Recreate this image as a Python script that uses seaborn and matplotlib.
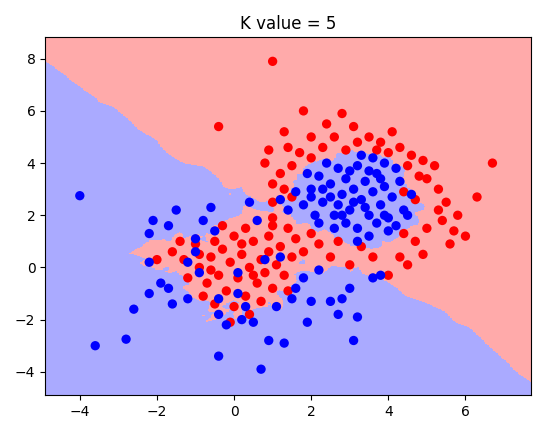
import numpy as np
import pandas as pd
import matplotlib
matplotlib.use("Agg")
import matplotlib.pyplot as plt
from matplotlib.colors import ListedColormap
import seaborn as sns

# Points (class 0 = red, class 1 = blue)
blue_pts = [
    (-4, 2.75), (-3.6, -3), (-2.8, -2.75), (-2.6, -1.6), (-2.2, 0.2), (-2.2, 1.3), (-2.1, 1.8),
    (-1.9, -0.6), (-1.7, -0.8), (-1.6, -1.4), (-1.7, 1.6), (-1.5, 2.2), (-1.2, -1.2), (-1, 0.6),
    (-0.8, 1.8), (-0.6, 2.3), (-0.5, 1.4), (-0.4, -3.4), (-0.4, -1.8), (-0.2, -2.2), (0.1, -1.0),
    (0.3, -1.5), (0.5, -2.1), (0.7, -3.9), (0.9, -2.8), (1.1, -1.5), (1.3, -2.9), (1.5, -1.2),
    (1.8, -0.4), (2, -1.3), (2.2, -0.1), (2.5, -1.3), (2.8, -1.2), (3.1, -2.8), (3.2, -1.9),
    (3.0, -0.8), (3.6, -0.4), (0.1, -0.2), (0.6, 1.8), (1.2, 2.6), (1.4, 2.2), (0.4, 2.5),
    (-1, 1.1), (-0.9, -0.2), (-1.2, 0.2), (0.8, 0.3), (1.2, 0.4), (1.6, -0.8), (2.7, -1.8),
    (-0.4, -1.2), (-2.2, -1.0), (0.2, -2.0), (1.9, -2.1),
    (2.0, 3.0), (2.2, 3.5), (2.3, 2.5), (2.5, 3.2), (2.6, 2.0), (2.7, 3.8), (2.8, 2.8), (2.9, 3.4),
    (3.0, 2.2), (3.1, 3.0), (3.2, 3.9), (3.3, 2.6), (3.4, 3.3), (3.5, 2.0), (3.6, 2.9), (3.7, 3.6),
    (3.8, 2.4), (3.9, 3.1), (4.0, 1.9), (4.1, 2.7), (4.3, 3.3), (4.4, 2.2), (1.8, 2.4), (1.9, 3.6),
    (2.1, 2.0), (2.4, 4.0), (2.6, 1.5), (2.9, 1.7), (3.2, 1.5), (3.3, 4.3), (3.6, 4.2), (3.9, 4.0),
    (4.2, 1.6), (4.6, 2.8), (1.6, 2.9), (2.3, 3.0), (2.7, 2.4), (3.0, 3.7), (3.4, 2.3), (3.7, 1.7),
    (3.9, 2.0), (4.2, 3.8), (2.2, 1.7), (2.0, 2.7), (2.8, 2.0), (3.1, 2.5), (3.5, 3.7), (3.8, 3.4),
    (4.5, 2.0), (2.5, 2.7), (3.2, 1.0), (3.5, 1.2), (4.0, 1.4), (3.8, -0.3),
]
red_pts = [
    (1.0, 7.9), (1.3, 5.2), (1.8, 6.0), (2.4, 5.5), (2.6, 5.0), (2.8, 5.9), (3.1, 5.4), (3.5, 5.0),
    (3.8, 4.8), (4.1, 5.2), (4.3, 4.6), (4.6, 4.3), (4.9, 4.1), (5.2, 3.9), (5.0, 3.4), (5.3, 3.0),
    (5.5, 2.5), (5.4, 1.8), (5.7, 1.4), (5.8, 2.0), (6.0, 1.2), (6.3, 2.7), (6.7, 4.0), (5.3, 2.2),
    (5.0, 1.5), (4.7, 1.0), (4.9, 0.5), (4.5, 0.1), (4.3, 0.4), (4.0, -0.3), (3.6, 0.4), (3.3, 0.8),
    (3.0, 0.1), (2.5, 0.4), (2.2, 0.9), (1.8, 0.6), (1.4, 1.5), (1.0, 2.5), (1.0, 3.2), (1.2, 3.6),
    (1.5, 3.9), (1.7, 4.4), (1.4, 4.6), (2.0, 4.2), (2.3, 4.6), (2.9, 4.5), (3.2, 4.8), (3.7, 4.5),
    (4.0, 4.4), (4.5, 3.9), (4.8, 3.5), (4.7, 2.6), (4.4, 2.9), (1.0, 1.9), (0.8, 4.0), (0.9, 4.5),
    (-0.4, 5.4), (5.6, 0.9), (1.5, 2.7), (1.3, 3.0), (2.0, 5.0), (4.4, 1.3), (2.7, 1.0), (2.0, 1.3),
    (-1.6, 0.6), (-1.3, 0.3), (-1.0, 0.9), (-0.9, 0.0), (-0.7, -0.6), (-0.6, 0.4), (-0.5, 1.0),
    (-0.4, -0.3), (-0.3, 0.7), (-0.2, -0.9), (-0.1, 0.2), (0.0, 1.2), (0.1, -0.4), (0.2, 0.5),
    (0.3, -1.1), (0.4, 0.0), (0.5, 1.0), (0.6, -0.6), (0.7, 0.3), (0.8, -0.2), (0.9, 1.2),
    (1.0, -0.8), (1.1, 0.1), (1.2, 0.8), (1.3, -0.3), (1.5, 0.4), (1.6, 1.1), (-0.8, -1.1),
    (-0.5, -1.4), (0.0, -1.5), (0.4, -1.8), (0.7, -1.3), (-1.2, -0.4), (-1.4, 1.0), (-0.3, 1.6),
    (0.3, 1.5), (1.0, 1.6), (-2.0, 0.3), (-0.1, -2.1), (0.5, -0.3), (-0.6, -0.1), (0.2, 0.9),
    (-0.9, 0.5), (1.4, -0.9), (0.9, 0.6),
]
k = 5

df = pd.DataFrame(red_pts + blue_pts, columns=["x", "y"])
df["label"] = [0] * len(red_pts) + [1] * len(blue_pts)

X = df[["x", "y"]].to_numpy()
labels = df["label"].to_numpy()

# KNN decision surface
xx, yy = np.meshgrid(np.arange(-4.9, 7.7, 0.04), np.arange(-4.9, 8.85, 0.04))
grid = np.c_[xx.ravel(), yy.ravel()]
pred = np.empty(len(grid), dtype=int)
for i in range(0, len(grid), 5000):
    g = grid[i:i + 5000]
    d = ((g[:, None, :] - X[None, :, :]) ** 2).sum(-1)
    nn = np.argsort(d, axis=1)[:, :k]
    pred[i:i + 5000] = (labels[nn].mean(axis=1) > 0.5).astype(int)
Z = pred.reshape(xx.shape)

fig, ax = plt.subplots(figsize=(5.46, 4.34), dpi=100)
ax.pcolormesh(xx, yy, Z, cmap=ListedColormap(["#FFAAAA", "#AAAAFF"]), shading="auto")
sns.scatterplot(data=df, x="x", y="y", hue="label", palette={0: "red", 1: "blue"},
                s=45, linewidth=0, legend=False, ax=ax)
ax.set_xlim(xx.min(), xx.max())
ax.set_ylim(yy.min(), yy.max())
ax.set_xlabel("")
ax.set_ylabel("")
ax.set_title("K value = 5")
fig.tight_layout()
fig.savefig("out.png")
